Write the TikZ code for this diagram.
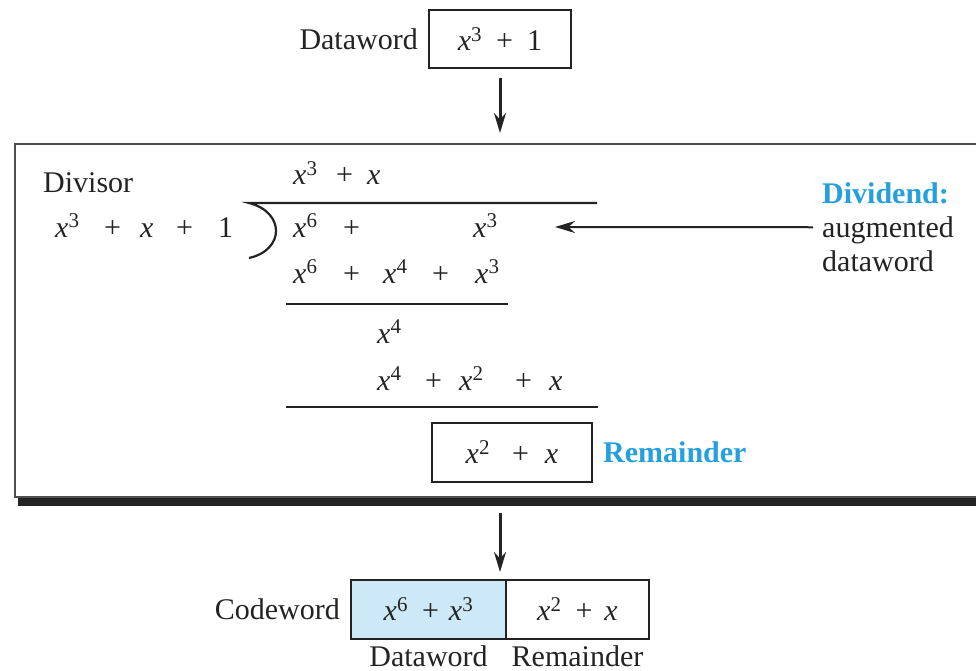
\documentclass[tikz,border=0pt]{standalone}
\usepackage{fontspec}
\setmainfont{Liberation Serif}
\usepackage{tikz}
\usetikzlibrary{arrows.meta,positioning}
\definecolor{crcblue}{RGB}{38,160,220}
\definecolor{crcfill}{RGB}{205,232,247}
\definecolor{ink}{RGB}{35,35,35}
\newcommand{\xp}[1]{\textit{x}\textsuperscript{#1}}
\newcommand{\xv}{\textit{x}}

\begin{document}
\begin{tikzpicture}[x=1pt,y=-1pt,text=ink,font=\fontsize{30}{34}\selectfont,
   box/.style={draw=ink,line width=1.6pt,inner sep=0pt,outer sep=0pt},
   term/.style={anchor=base west,inner sep=0pt},
   arr/.style={-{Stealth[length=20pt,width=12pt]},line width=3pt,draw=ink},
   blue lbl/.style={text=crcblue,font=\fontsize{30}{34}\selectfont\bfseries}]
\useasboundingbox (0,0) rectangle (976,671);
\clip (0,0) rectangle (976,671);
% frame round the division
\fill[ink] (18,497) rectangle (990,506);
\draw[draw=ink!80,line width=2pt] (990,144) -- (15,144) -- (15,497) -- (990,497);
% dataword
\node[box,minimum width=142pt,minimum height=58pt] (dw) at (500,39)
   {\xp{3}\hspace{14pt}+\hspace{14pt}1};
\node[inner sep=0pt,left=11pt of dw] (dwlbl) {Dataword};
\coordinate (ftop) at (500,144);
\draw[arr,shorten <=10pt,shorten >=11pt] (dw) -- (ftop);
% divisor
\node[term] (dvsr) at (43,192) {Divisor};
\foreach \x/\t [count=\i] in {55/\xp{3},104/+,140/\xv,176/+,218/1} {
   \node[term] (dv\i) at (\x,237) {\t};
}
\coordinate (vtop) at (249,203);
\draw[ink,line width=2.2pt] (597,203) -- (vtop) .. controls (285,212) and (285,250) .. (249,258);
% rows of the division
\foreach \x/\t [count=\i] in {293/\xp{3},336/+,367/\xv} {
   \node[term] (q\i) at (\x,185) {\t};
}
\foreach \x/\t [count=\i] in {293/\xp{6},343/+,473/\xp{3}} {
   \node[term] (ra\i) at (\x,237) {\t};
}
\foreach \x/\t [count=\i] in %
{293/\xp{6},343/+,383/\xp{4},432/+,475/\xp{3}} {
   \node[term] (rb\i) at (\x,283) {\t};
}
\draw[ink,line width=2pt] (286,304) -- (508,304);
\node[term] (rc1) at (377,343) {\xp{4}};
\foreach \x/\t [count=\i] in %
{377/\xp{4},425/+,459/\xp{2},515/+,549/\xv} {
   \node[term] (rd\i) at (\x,390) {\t};
}
\draw[ink,line width=2pt] (286,407) -- (598,407);
% remainder
\node[box,minimum width=160pt,minimum height=59pt] (rem) at (512,452.5)
   {\xp{2}\hspace{22pt}+\hspace{16pt}\xv};
\node[blue lbl,inner sep=0pt,right=11pt of rem] (remlbl) {Remainder};
% dividend
\node[align=left,anchor=north west,inner sep=0pt] (dvd) at (822,182.5)
   {\textcolor{crcblue}{\bfseries Dividend:}\\augmented\\dataword};
\coordinate (dvdtip) at (555,227);
\draw[arr,line width=2pt] ([xshift=-9pt]dvd.west) -- (dvdtip);
% codeword
\coordinate (fbot) at (500,506);
\coordinate (cwtop) at (500,580);
\draw[arr,shorten <=7pt,shorten >=8pt] (fbot) -- (cwtop);
\node[box,fill=crcfill,minimum width=155pt,minimum height=59pt] (cwd) at (428.5,609.5)
   {\xp{6}\hspace{14pt}+\hspace{10pt}\xp{3}};
\node[box,minimum width=143pt,minimum height=59pt,right=0pt of cwd] (cwr)
   {\xp{2}\hspace{14pt}+\hspace{12pt}\xv};
\node[inner sep=0pt,left=11pt of cwd] (cwlbl) {Codeword};
\node[inner sep=0pt,below=6pt of cwd] (cwdlbl) {Dataword};
\node[inner sep=0pt,below=6pt of cwr] (cwrlbl) {Remainder};
\end{tikzpicture}
\end{document}
